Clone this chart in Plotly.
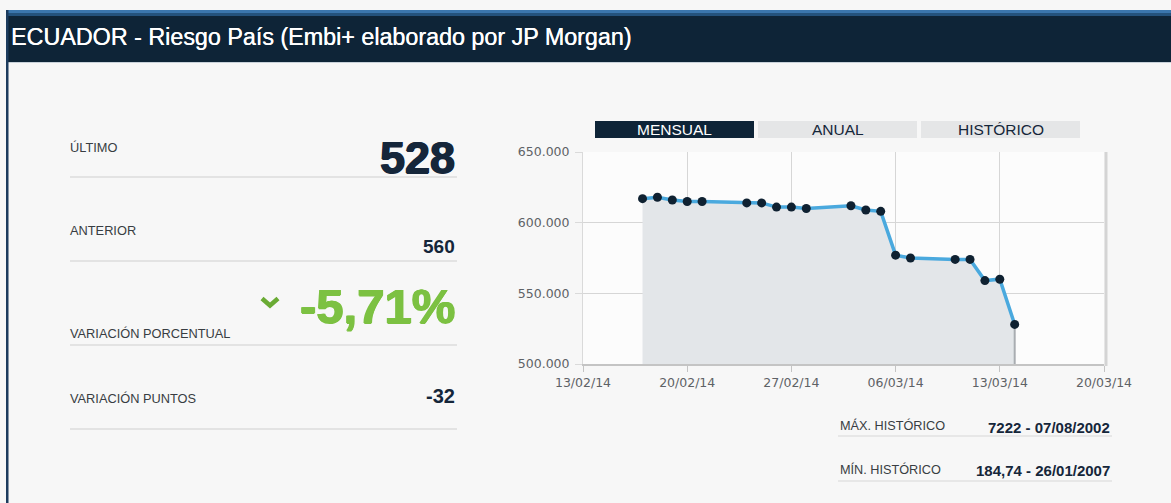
import plotly.graph_objects as go

# ---------------- data ----------------
dates = ["2014-02-17", "2014-02-18", "2014-02-19", "2014-02-20", "2014-02-21",
         "2014-02-24", "2014-02-25", "2014-02-26", "2014-02-27", "2014-02-28",
         "2014-03-03", "2014-03-04", "2014-03-05", "2014-03-06", "2014-03-07",
         "2014-03-10", "2014-03-11", "2014-03-12", "2014-03-13", "2014-03-14"]
values = [617, 618, 616, 615, 615,
          614, 614, 611, 611, 610,
          612, 609, 608, 577, 575,
          574, 574, 559, 560, 528]
y_ticks = [500, 550, 600, 650]
tabs = ["MENSUAL", "ANUAL", "HISTÓRICO"]
stat_labels = ["ÚLTIMO", "ANTERIOR", "VARIACIÓN PORCENTUAL", "VARIACIÓN PUNTOS"]
stat_values = ["528", "560", "-5,71%", "-32"]
hist_labels = ["MÁX. HISTÓRICO", "MÍN. HISTÓRICO"]
hist_values = ["7222 - 07/08/2002", "184,74 - 26/01/2007"]
title = "ECUADOR - Riesgo País (Embi+ elaborado por JP Morgan)"

# ---------------- helpers ----------------
W, H = 1171, 503
def X(p):
    return p / W
def Y(p):
    return 1 - p / H

NAVY = "#0e2437"
GREEN = "#7cc142"
TXT = "#15263a"
LAB = "#383d42"
FONT = "Liberation Sans, Arial, sans-serif"

def thick(color, d):
    return "%spx 0 0 %s, -%spx 0 0 %s, 0 %spx 0 %s" % (d, color, d, color, d, color)

fig = go.Figure()

fig.add_trace(go.Scatter(
    x=dates, y=values, mode="lines",
    line=dict(color="rgba(0,0,0,0)", width=0),
    fill="tozeroy", fillcolor="#e3e6e9", hoverinfo="skip", showlegend=False))
fig.add_trace(go.Scatter(
    x=[dates[-1], dates[-1]], y=[values[-1], y_ticks[0]], mode="lines",
    line=dict(color="#a9adb1", width=2), hoverinfo="skip", showlegend=False))
fig.add_trace(go.Scatter(
    x=dates, y=values, mode="lines+markers",
    line=dict(color="#4aa9de", width=3.5),
    marker=dict(color="#0f2131", size=9),
    hoverinfo="skip", showlegend=False))

shapes = []
annotations = []

# title bar
shapes.append(dict(type="rect", xref="paper", yref="paper", x0=X(6), x1=X(W), y0=Y(62), y1=Y(10),
                   fillcolor=NAVY, line=dict(width=0), layer="below"))
shapes.append(dict(type="rect", xref="paper", yref="paper", x0=X(6), x1=X(W), y0=Y(13), y1=Y(10),
                   fillcolor="#3b76ad", line=dict(width=0), layer="below"))
shapes.append(dict(type="rect", xref="paper", yref="paper", x0=X(6), x1=X(W), y0=Y(16), y1=Y(13),
                   fillcolor="#24527c", line=dict(width=0), layer="below"))
shapes.append(dict(type="line", xref="paper", yref="paper", x0=X(6), x1=X(W), y0=Y(62.5), y1=Y(62.5),
                   line=dict(color="#c9d2da", width=1), layer="below"))
# left border
shapes.append(dict(type="rect", xref="paper", yref="paper", x0=X(6), x1=X(8.5), y0=0, y1=Y(10),
                   fillcolor="#1d3c5e", line=dict(width=0), layer="below"))
annotations.append(dict(text=title, xref="paper", yref="paper", x=X(9), y=Y(37),
                        xanchor="left", yanchor="middle", showarrow=False,
                        font=dict(family=FONT, size=23.3, color="white",
                                  shadow="0.3px 0 0 white")))

# tabs
tab_x = [(595, 754), (758, 917), (921, 1080)]
for i, (name, (a, b)) in enumerate(zip(tabs, tab_x)):
    active = i == 0
    shapes.append(dict(type="rect", xref="paper", yref="paper", x0=X(a), x1=X(b), y0=Y(138), y1=Y(121),
                       fillcolor=NAVY if active else "#e5e6e7", line=dict(width=0), layer="below"))
    annotations.append(dict(text=name, xref="paper", yref="paper", x=X((a + b) / 2), y=Y(129.5),
                            xanchor="center", yanchor="middle", showarrow=False,
                            font=dict(family=FONT, size=15.5, color="white" if active else TXT)))

# left stats
label_y = [147, 230, 333, 398]
line_y = [177, 261, 345, 429]
val_y = [157, 246, 306, 396]
val_size = [45, 19, 49, 20]
val_color = [TXT, TXT, GREEN, TXT]
val_thick = [0.7, 0, 0.7, 0]
for lab, ly, val, vy, vs, vc, vt, hy in zip(stat_labels, label_y, stat_values, val_y, val_size,
                                             val_color, val_thick, line_y):
    annotations.append(dict(text=lab, xref="paper", yref="paper", x=X(68), y=Y(ly),
                            xanchor="left", yanchor="middle", showarrow=False,
                            font=dict(family=FONT, size=12.8, color=LAB)))
    vfont = dict(family=FONT, size=vs, color=vc, weight=700)
    if vt:
        vfont["shadow"] = thick(vc, vt)
    annotations.append(dict(text=val, xref="paper", yref="paper", x=X(457), y=Y(vy),
                            xanchor="right", yanchor="middle", showarrow=False, font=vfont))
    shapes.append(dict(type="line", xref="paper", yref="paper", x0=X(70), x1=X(457), y0=Y(hy), y1=Y(hy),
                       line=dict(color="#dcdcdc", width=1.5), layer="below"))

# chevron
shapes.append(dict(type="path", xref="paper", yref="paper",
                   path="M %f,%f L %f,%f L %f,%f" % (X(262), Y(298.5), X(270), Y(305.5), X(278), Y(298.5)),
                   line=dict(color="#6aab34", width=4.5), layer="above"))

# historic
hl_y = [425, 469]
hv_y = [427, 470]
hline_y = [436, 481]
for lab, ly, val, vy, hy in zip(hist_labels, hl_y, hist_values, hv_y, hline_y):
    annotations.append(dict(text=lab, xref="paper", yref="paper", x=X(838), y=Y(ly),
                            xanchor="left", yanchor="middle", showarrow=False,
                            font=dict(family=FONT, size=12.7, color=LAB)))
    annotations.append(dict(text=val, xref="paper", yref="paper", x=X(1112), y=Y(vy),
                            xanchor="right", yanchor="middle", showarrow=False,
                            font=dict(family=FONT, size=15, color=TXT, weight=700)))
    shapes.append(dict(type="line", xref="paper", yref="paper", x0=X(838), x1=X(1112), y0=Y(hy), y1=Y(hy),
                       line=dict(color="#e2e2e2", width=1.5), layer="below"))

# plot right shadow
shapes.append(dict(type="line", xref="paper", yref="paper", x0=X(1106), x1=X(1106), y0=Y(366), y1=Y(152),
                   line=dict(color="#d4d4d4", width=3), layer="below"))

TICKFONT = dict(family="DejaVu Sans, sans-serif", size=12.5, color="#5e6266")

fig.update_layout(
    width=W, height=H,
    margin=dict(l=0, r=0, t=0, b=0, autoexpand=False),
    paper_bgcolor="#f7f7f7",
    plot_bgcolor="#fcfcfc",
    showlegend=False,
    shapes=shapes,
    annotations=annotations,
    hovermode=False,
    xaxis=dict(
        domain=[X(583), X(1104)],
        type="date", automargin=False,
        range=["2014-02-13", "2014-03-20"],
        tick0="2014-02-13", dtick=7 * 24 * 3600 * 1000,
        tickformat="%d/%m/%y",
        showgrid=True, gridcolor="#d6d6d6", gridwidth=1,
        showline=True, linecolor="#c4c4c4", linewidth=2, mirror=False,
        ticks="outside", ticklen=6, tickcolor="#c4c4c4",
        tickfont=TICKFONT, zeroline=False, fixedrange=True,
    ),
    yaxis=dict(
        domain=[Y(364), Y(152)],
        range=[500, 650], automargin=False,
        tickvals=y_ticks,
        tickformat=".3f",
        showgrid=True, gridcolor="#d6d6d6", gridwidth=1,
        showline=True, linecolor="#dadada", linewidth=1, mirror=False,
        ticks="outside", ticklen=7, tickcolor="#dadada", ticklabelstandoff=3,
        tickfont=TICKFONT, zeroline=False, fixedrange=True,
    ),
)

fig.write_html("out.html", config={"displayModeBar": False},
               post_script="document.body.style.margin='0';document.body.style.overflow='hidden';")
